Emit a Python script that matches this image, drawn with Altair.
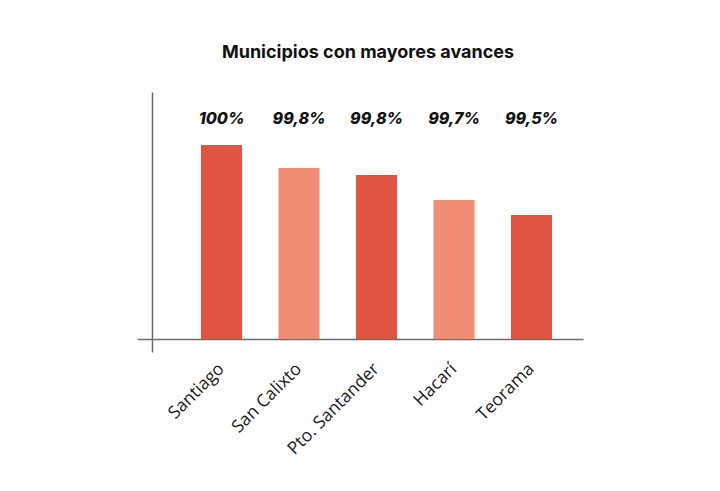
import altair as alt
import pandas as pd

municipios = ["Santiago", "San Calixto", "Pto. Santander", "Hacarí", "Teorama"]
etiquetas = ["100%", "99,8%", "99,8%", "99,7%", "99,5%"]
altura_barra = [194, 171, 164, 139, 124]
tono = ["oscuro", "claro", "oscuro", "claro", "oscuro"]
nivel_etiqueta = 220

df = pd.DataFrame({"municipio": municipios, "etiqueta": etiquetas,
                   "valor": altura_barra, "tono": tono})

xenc = alt.X("municipio:N", sort=municipios,
             scale=alt.Scale(paddingInner=0.47, paddingOuter=0.6125, align=0.674),
             axis=alt.Axis(title=None, labelAngle=-45, labelAlign="right", labelBaseline="middle",
                           labelFont="Open Sans", labelFontSize=17.5, labelFontWeight=500,
                           labelColor="#1a1a1a",
                           labelPadding=27, ticks=False, domainColor="#6b6b6b", domainWidth=1.5,
                           offset=-13))
ysc = alt.Scale(domain=[-13, 247], nice=False, zero=False)

bars = alt.Chart(df).mark_bar().encode(
    x=xenc,
    y=alt.Y("valor:Q", scale=ysc,
            axis=alt.Axis(title=None, labels=False, ticks=False, grid=False,
                          domainColor="#6b6b6b", domainWidth=1.5, offset=-15)),
    y2=alt.datum(0),
    color=alt.Color("tono:N", scale=alt.Scale(domain=["oscuro", "claro"],
                                               range=["#E05443", "#EF8D75"]), legend=None),
)

text = alt.Chart(df).mark_text(font="Inter", fontSize=16, fontWeight=800, fontStyle="italic",
                               color="#111111", baseline="middle").encode(
    x=alt.X("municipio:N", sort=municipios),
    y=alt.datum(nivel_etiqueta),
    text="etiqueta:N",
)

chart = alt.layer(bars, text).properties(
    width=446, height=260,
    padding={"left": 137, "top": 92, "right": 137, "bottom": 139},
    autosize=alt.AutoSizeParams(type="none"),
    title=alt.TitleParams("Municipios con mayores avances", font="Inter", fontSize=18,
                          fontWeight="bold", color="#111111", offset=30, dx=8),
).configure_view(stroke=None)

chart.save("out.html", embed_options={"renderer": "svg", "actions": False})
